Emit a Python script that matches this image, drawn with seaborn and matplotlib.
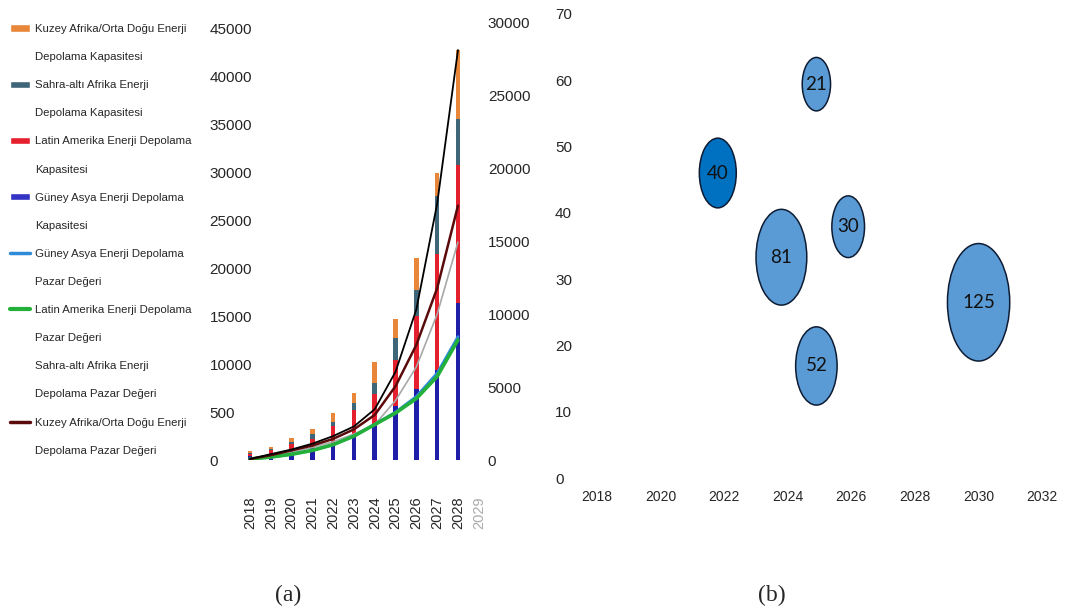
import matplotlib
matplotlib.use('Agg')
import matplotlib.pyplot as plt
import seaborn as sns
import pandas as pd
from matplotlib.patches import Patch
from matplotlib.lines import Line2D
from matplotlib.path import Path
from matplotlib.transforms import Affine2D

# (a) kapasite (stacked bars, left axis) and pazar degeri (lines, right axis)
years = [2018, 2019, 2020, 2021, 2022, 2023, 2024, 2025, 2026, 2027, 2028]
guney_asya_kap = [400, 500, 900, 1200, 1500, 2400, 3800, 5600, 7400, 9400, 16400]
latin_amerika_kap = [200, 500, 800, 1000, 2000, 2800, 3100, 4800, 7600, 12100, 14300]
sahra_alti_kap = [100, 100, 200, 500, 500, 700, 1100, 2300, 2700, 6000, 4800]
kuzey_afrika_kap = [200, 300, 400, 500, 900, 1100, 2200, 2000, 3300, 2400, 7200]

toplam_egri = [70, 400, 720, 1120, 1640, 2300, 3480, 6050, 10320, 17560, 28080]
kuzey_afrika_pazar = [70, 330, 660, 990, 1450, 2100, 3090, 5060, 7890, 11770, 17420]
sahra_alti_pazar = [70, 260, 530, 860, 1250, 1780, 2430, 4080, 6380, 9990, 14930]
guney_asya_pazar = [70, 200, 390, 660, 1050, 1640, 2450, 3280, 4350, 5950, 8450]
latin_amerika_pazar = [70, 200, 390, 660, 1050, 1640, 2430, 3220, 4210, 5720, 8220]

year_ticks = list(range(2018, 2030))
left_ticks = [0, 5000, 10000, 15000, 20000, 25000, 30000, 35000, 40000, 45000]
left_labels = ['0', '500', '10000', '15000', '20000', '25000', '30000', '35000', '40000', '45000']
right_ticks = [0, 5000, 10000, 15000, 20000, 25000, 30000]

legend_lines = ['Kuzey Afrika/Orta Doğu Enerji', 'Depolama Kapasitesi',
                'Sahra-altı Afrika Enerji', 'Depolama Kapasitesi',
                'Latin Amerika Enerji Depolama', 'Kapasitesi',
                'Güney Asya Enerji Depolama', 'Kapasitesi',
                'Güney Asya Enerji Depolama', 'Pazar Değeri',
                'Latin Amerika Enerji Depolama', 'Pazar Değeri',
                'Sahra-altı Afrika Enerji', 'Depolama Pazar Değeri',
                'Kuzey Afrika/Orta Doğu Enerji', 'Depolama Pazar Değeri']

# (b) bubble chart
bubble_year = [2024.9, 2021.8, 2025.9, 2023.8, 2024.9, 2030.0]
bubble_value = [59.4, 46.0, 37.9, 33.3, 16.9, 26.5]
bubble_size = [21, 40, 30, 81, 52, 125]
bubble_group = ['acik', 'koyu', 'acik', 'acik', 'acik', 'acik']
b_xticks = [2018, 2020, 2022, 2024, 2026, 2028, 2030, 2032]
b_yticks = [0, 10, 20, 30, 40, 50, 60, 70]

c_orange = '#E8873A'
c_slate = '#3F6579'
c_red = '#E5202E'
c_blue = '#1E1EA8'
c_lblue = '#2E8BD8'
c_green = '#22B03A'
c_maroon = '#5A0A0A'
c_gray = '#A8A8A8'

sns.set_style('white')
plt.rcParams['font.family'] = ['Liberation Sans', 'DejaVu Sans']

fig = plt.figure(figsize=(10.69, 6.14), dpi=100)
W, H = 1069, 614

# ---- panel (a)
ax = fig.add_axes([239.6 / W, (H - 460) / H, 245.4 / W, 444 / H])
bars = pd.DataFrame({
    'yil': years * 4,
    'deger': kuzey_afrika_kap + sahra_alti_kap + latin_amerika_kap + guney_asya_kap,
    'seri': ['kuzey'] * 11 + ['sahra'] * 11 + ['latin'] * 11 + ['guney'] * 11,
})
sns.histplot(bars, x='yil', weights='deger', hue='seri',
             hue_order=['kuzey', 'sahra', 'latin', 'guney'],
             palette=[c_orange, c_slate, c_red, c_blue],
             multiple='stack', discrete=True, shrink=0.22, alpha=1,
             linewidth=0, legend=False, ax=ax)
ax.set_xlim(2017.5, 2029.3)
ax.set_ylim(0, 46250)
ax.set_xlabel('')
ax.set_ylabel('')
ax.set_xticks(year_ticks)
ax.set_xticklabels([str(y) for y in year_ticks], rotation=90, fontsize=10.5)
ax.get_xticklabels()[-1].set_color('#AAAAAA')
ax.set_yticks(left_ticks)
ax.set_yticklabels(left_labels, fontsize=11)
for lab in ax.get_yticklabels():
    lab.set_horizontalalignment('left')
ax.tick_params(axis='y', length=0, pad=21.6)
ax.tick_params(axis='x', length=0, pad=26)
sns.despine(ax=ax, left=True, bottom=True)

ax2 = ax.twinx()
lines = [
    (sahra_alti_pazar, c_gray, 1.2),
    (guney_asya_pazar, c_lblue, 2.0),
    (latin_amerika_pazar, c_green, 2.6),
    (kuzey_afrika_pazar, c_maroon, 1.8),
    (toplam_egri, 'black', 1.3),
]
for vals, col, lw in lines:
    sns.lineplot(x=years, y=vals, color=col, linewidth=lw, ax=ax2)
ax2.set_ylim(0, 30411)
ax2.set_yticks(right_ticks)
ax2.set_yticklabels([str(t) for t in right_ticks], fontsize=11)
ax2.tick_params(axis='y', length=0, pad=2)
ax2.set_ylabel('')
sns.despine(ax=ax2, left=True, bottom=True, right=True)

blank = Patch(facecolor='none', edgecolor='none')
handles = [Patch(facecolor=c_orange), blank, Patch(facecolor=c_slate), blank,
           Patch(facecolor=c_red), blank, Patch(facecolor='#3434C4'), blank,
           Line2D([], [], color=c_lblue, lw=2.5), blank,
           Line2D([], [], color=c_green, lw=3), blank,
           Line2D([], [], color='white', lw=2.5), blank,
           Line2D([], [], color=c_maroon, lw=2.5), blank]
leg = fig.legend(handles, legend_lines, loc='upper left', bbox_to_anchor=(10 / W, 1 - 24 / H),
                 frameon=False, prop={'family': 'Liberation Sans', 'size': 8.2},
                 handlelength=1.75, handleheight=0.6, handletextpad=0.45,
                 labelspacing=1.59, borderpad=0, borderaxespad=0)

# ---- panel (b)
axb = fig.add_axes([575 / W, (H - 478) / H, 485 / W, 473 / H])
bub = pd.DataFrame({'yil': bubble_year, 'deger': bubble_value,
                    'boyut': bubble_size, 'grup': bubble_group})
ellipse = Path.unit_circle().transformed(Affine2D().scale(0.53, 1.0))
sns.scatterplot(bub, x='yil', y='deger', size='boyut', sizes=(1482, 7157),
                hue='grup', palette={'acik': '#5B9BD5', 'koyu': '#0070C0'},
                marker=ellipse, edgecolor='#0D1B33', linewidth=1.1,
                alpha=1, legend=False, ax=axb)
for xv, yv, sv in zip(bubble_year, bubble_value, bubble_size):
    axb.text(xv, yv, str(sv), ha='center', va='center', fontsize=13.5,
             family=['Lato', 'DejaVu Sans'], color='#111111')
axb.set_xlim(2017.31, 2032.56)
axb.set_ylim(0, 71.34)
axb.set_xticks(b_xticks)
axb.set_xticklabels([str(t) for t in b_xticks], fontsize=10)
axb.set_yticks(b_yticks)
axb.set_yticklabels([str(t) for t in b_yticks], fontsize=11)
for lab in axb.get_yticklabels():
    lab.set_horizontalalignment('left')
axb.tick_params(axis='y', length=0, pad=14.4)
axb.tick_params(axis='x', length=0, pad=8.6)
axb.set_xlabel('')
axb.set_ylabel('')
sns.despine(ax=axb, left=True, bottom=True)

fig.text(288 / W, 1 - 595 / H, '(a)', ha='center', va='center',
         family='Liberation Serif', fontsize=17)
fig.text(772 / W, 1 - 595 / H, '(b)', ha='center', va='center',
         family='Liberation Serif', fontsize=17)

fig.savefig('out.png', dpi=100)
plt.close(fig)
